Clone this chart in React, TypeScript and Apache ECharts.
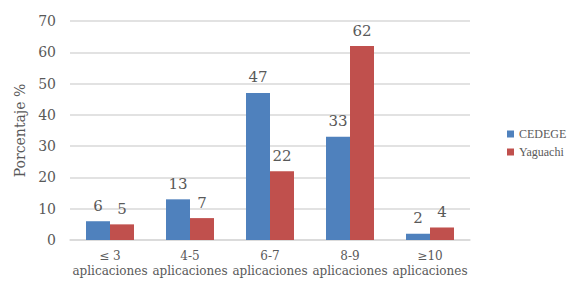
import React, { useEffect, useRef } from "react";
import * as echarts from "echarts";

const categories = ["≤ 3\naplicaciones", "4-5\naplicaciones", "6-7\naplicaciones", "8-9\naplicaciones", "≥10\naplicaciones"];
const cedege = [6, 13, 47, 33, 2];
const yaguachi = [5, 7, 22, 62, 4];
const seriesNames = ["CEDEGE", "Yaguachi"];
const colors = ["#4f81bd", "#c0504d"];

const FONT = "DejaVu Serif";
const GRAY = "#595959";

export default function App() {
  const ref = useRef<HTMLDivElement>(null);
  useEffect(() => {
    if (!ref.current) return;
    const chart = echarts.init(ref.current, null, { renderer: "svg" });
    chart.setOption({
      animation: false,
      textStyle: { fontFamily: FONT, color: GRAY },
      grid: { left: 70, right: 97, top: 21, bottom: 42 },
      legend: {
        orient: "vertical",
        left: 502,
        top: 123,
        itemWidth: 7,
        itemHeight: 7,
        itemGap: 6,
        icon: "rect",
        textStyle: { fontFamily: "Liberation Serif", fontSize: 12, color: GRAY },
        data: seriesNames,
      },
      xAxis: {
        type: "category",
        data: categories,
        axisLine: { lineStyle: { color: "#d9d9d9", width: 1.5 } },
        axisTick: { show: false },
        axisLabel: { interval: 0, fontFamily: FONT, fontSize: 12, color: GRAY, lineHeight: 15, margin: 8 },
      },
      yAxis: {
        type: "value",
        min: 0,
        max: 70,
        interval: 10,
        name: "Porcentaje %",
        nameLocation: "middle",
        nameGap: 40,
        nameTextStyle: { fontFamily: FONT, fontSize: 14, color: GRAY },
        axisLine: { show: false },
        axisTick: { show: false },
        axisLabel: { fontFamily: FONT, fontSize: 14, color: GRAY, margin: 14 },
        splitLine: { lineStyle: { color: "#d9d9d9", width: 1.5 } },
      },
      series: [
        {
          name: seriesNames[0],
          type: "bar",
          data: cedege,
          barWidth: 24,
          barGap: "0%",
          itemStyle: { color: colors[0] },
          label: { show: true, position: "top", distance: 8, fontFamily: FONT, fontSize: 15, color: GRAY },
        },
        {
          name: seriesNames[1],
          type: "bar",
          data: yaguachi,
          barWidth: 24,
          barGap: "0%",
          itemStyle: { color: colors[1] },
          label: { show: true, position: "top", distance: 8, fontFamily: FONT, fontSize: 15, color: GRAY },
        },
      ],
    });
    return () => chart.dispose();
  }, []);
  return <div ref={ref} style={{ width: 567, height: 282, position: "absolute", left: 0, top: 0 }} />;
}
